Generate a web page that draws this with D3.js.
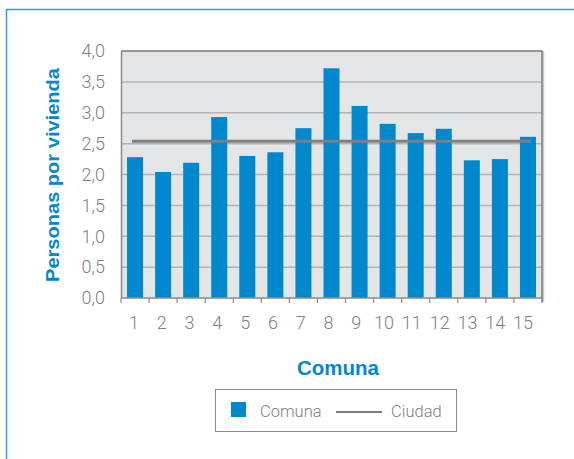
<!DOCTYPE html>
<html>
<head>
<meta charset="utf-8">
<script src="https://cdn.jsdelivr.net/npm/d3@7"></script>
<style>
  html, body { margin: 0; padding: 0; background: #fff; }
  svg { display: block; }
</style>
</head>
<body>
<svg id="chart" width="574" height="459"></svg>
<script>
const categories = ["1","2","3","4","5","6","7","8","9","10","11","12","13","14","15"];
const comunaValues = [2.28, 2.04, 2.19, 2.93, 2.30, 2.36, 2.75, 3.72, 3.11, 2.82, 2.67, 2.74, 2.23, 2.25, 2.61];
const ciudadValue = 2.54;
const yTicks = [0, 0.5, 1.0, 1.5, 2.0, 2.5, 3.0, 3.5, 4.0];
const yTickLabels = ["0,0","0,5","1,0","1,5","2,0","2,5","3,0","3,5","4,0"];
const seriesNames = ["Comuna", "Ciudad"];

const svg = d3.select("#chart");
const W = 574, H = 459;
const blue = "#0088cf";
const gray = "#808080";
const font = "Roboto, 'Liberation Sans', Arial, sans-serif";

// Outer frame (left and top edges visible)
svg.append("path")
  .attr("d", `M6.5,${H} L6.5,9.5 L${W},9.5`)
  .attr("fill", "none").attr("stroke", "#3a9ad9").attr("stroke-width", 1.5);

const m = { left: 121, top: 51, right: 542, bottom: 298 };

const x = d3.scaleBand().domain(categories).range([m.left, m.right]).paddingInner(0.43).paddingOuter(0.215);
const xb = d3.scaleBand().domain(categories).range([m.left, m.right]);
const xl = d3.scalePoint().domain(categories).range([134, 523]);
const y = d3.scaleLinear().domain([0, 4]).range([m.bottom, m.top]);

// plot background
svg.append("rect")
  .attr("x", m.left).attr("y", m.top)
  .attr("width", m.right - m.left).attr("height", m.bottom - m.top)
  .attr("fill", "#e4e5e7");

// gridlines
svg.append("g").selectAll("line").data(yTicks.slice(1, -1)).join("line")
  .attr("x1", m.left).attr("x2", m.right)
  .attr("y1", d => y(d)).attr("y2", d => y(d))
  .attr("stroke", "#b3b3b3").attr("stroke-width", 1.5);

// right shadow and border
svg.append("line").attr("x1", m.right + 1.5).attr("x2", m.right + 1.5)
  .attr("y1", m.top).attr("y2", m.bottom + 4)
  .attr("stroke", "#c8c8c8").attr("stroke-width", 1.5);
svg.append("path")
  .attr("d", `M${m.left},${m.top} L${m.right},${m.top} L${m.right},${m.bottom + 4}`)
  .attr("fill", "none").attr("stroke", "#7a7a7a").attr("stroke-width", 1.5);

// bars
svg.append("g").selectAll("rect").data(comunaValues).join("rect")
  .attr("x", (d, i) => x(categories[i]))
  .attr("width", x.bandwidth())
  .attr("y", d => y(d))
  .attr("height", d => y(0) - y(d))
  .attr("fill", blue);

// city line
svg.append("line")
  .attr("x1", xb(categories[0]) + xb.bandwidth() / 2 - 3)
  .attr("x2", xb(categories[categories.length - 1]) + xb.bandwidth() / 2 + 3)
  .attr("y1", y(ciudadValue)).attr("y2", y(ciudadValue))
  .attr("stroke", "#7f7f7f").attr("stroke-width", 3);

// y axis
const yAxis = d3.axisLeft(y).tickValues(yTicks).tickSize(0).tickPadding(16)
  .tickFormat((d, i) => yTickLabels[i]);
const gy = svg.append("g").attr("transform", `translate(${m.left},0)`).call(yAxis);
gy.select(".domain").attr("stroke", "#8a8a8a").attr("stroke-width", 1.5);
gy.selectAll("text").attr("fill", gray).attr("font-family", font)
  .attr("font-size", 18).attr("font-weight", 300);

// x axis
const gx = svg.append("g").attr("transform", `translate(0,${m.bottom})`);
gx.append("line").attr("x1", m.left).attr("x2", m.right)
  .attr("stroke", "#8a8a8a").attr("stroke-width", 1.5);
const boundaries = categories.map(c => xb(c)).concat([m.right]);
gx.selectAll("line.tk").data(boundaries).join("line").attr("class", "tk")
  .attr("x1", d => d).attr("x2", d => d).attr("y1", 0).attr("y2", 5)
  .attr("stroke", "#8a8a8a").attr("stroke-width", 1.2);
gx.selectAll("text").data(categories).join("text")
  .attr("x", d => xl(d))
  .attr("y", 31)
  .attr("text-anchor", "middle")
  .attr("fill", gray).attr("font-family", font)
  .attr("font-size", 18).attr("font-weight", 300)
  .text(d => d);

// axis titles
svg.append("text")
  .attr("transform", `translate(59,175) rotate(-90)`)
  .attr("text-anchor", "middle")
  .attr("fill", blue).attr("font-family", "'Liberation Sans', Arial, sans-serif")
  .attr("font-weight", "bold").attr("font-size", 19)
  .attr("textLength", 214).attr("lengthAdjust", "spacingAndGlyphs")
  .text("Personas por vivienda");

svg.append("text")
  .attr("x", 338).attr("y", 375)
  .attr("text-anchor", "middle")
  .attr("fill", blue).attr("font-family", "'Liberation Sans', Arial, sans-serif")
  .attr("font-weight", "bold").attr("font-size", 20.5)
  .text("Comuna");

// legend
const lg = svg.append("g");
lg.append("rect").attr("x", 215.5).attr("y", 389.5).attr("width", 241).attr("height", 42)
  .attr("fill", "#fff").attr("stroke", "#8a8a8a").attr("stroke-width", 1);
lg.append("rect").attr("x", 231).attr("y", 402).attr("width", 15).attr("height", 15)
  .attr("fill", blue);
lg.append("text").attr("x", 260).attr("y", 417)
  .attr("fill", gray).attr("font-family", font).attr("font-weight", 300).attr("font-size", 16.5)
  .text(seriesNames[0]);
lg.append("line").attr("x1", 336).attr("x2", 382).attr("y1", 412).attr("y2", 412)
  .attr("stroke", "#7f7f7f").attr("stroke-width", 2);
lg.append("text").attr("x", 391).attr("y", 417)
  .attr("fill", gray).attr("font-family", font).attr("font-weight", 300).attr("font-size", 16.5)
  .text(seriesNames[1]);
</script>
</body>
</html>
